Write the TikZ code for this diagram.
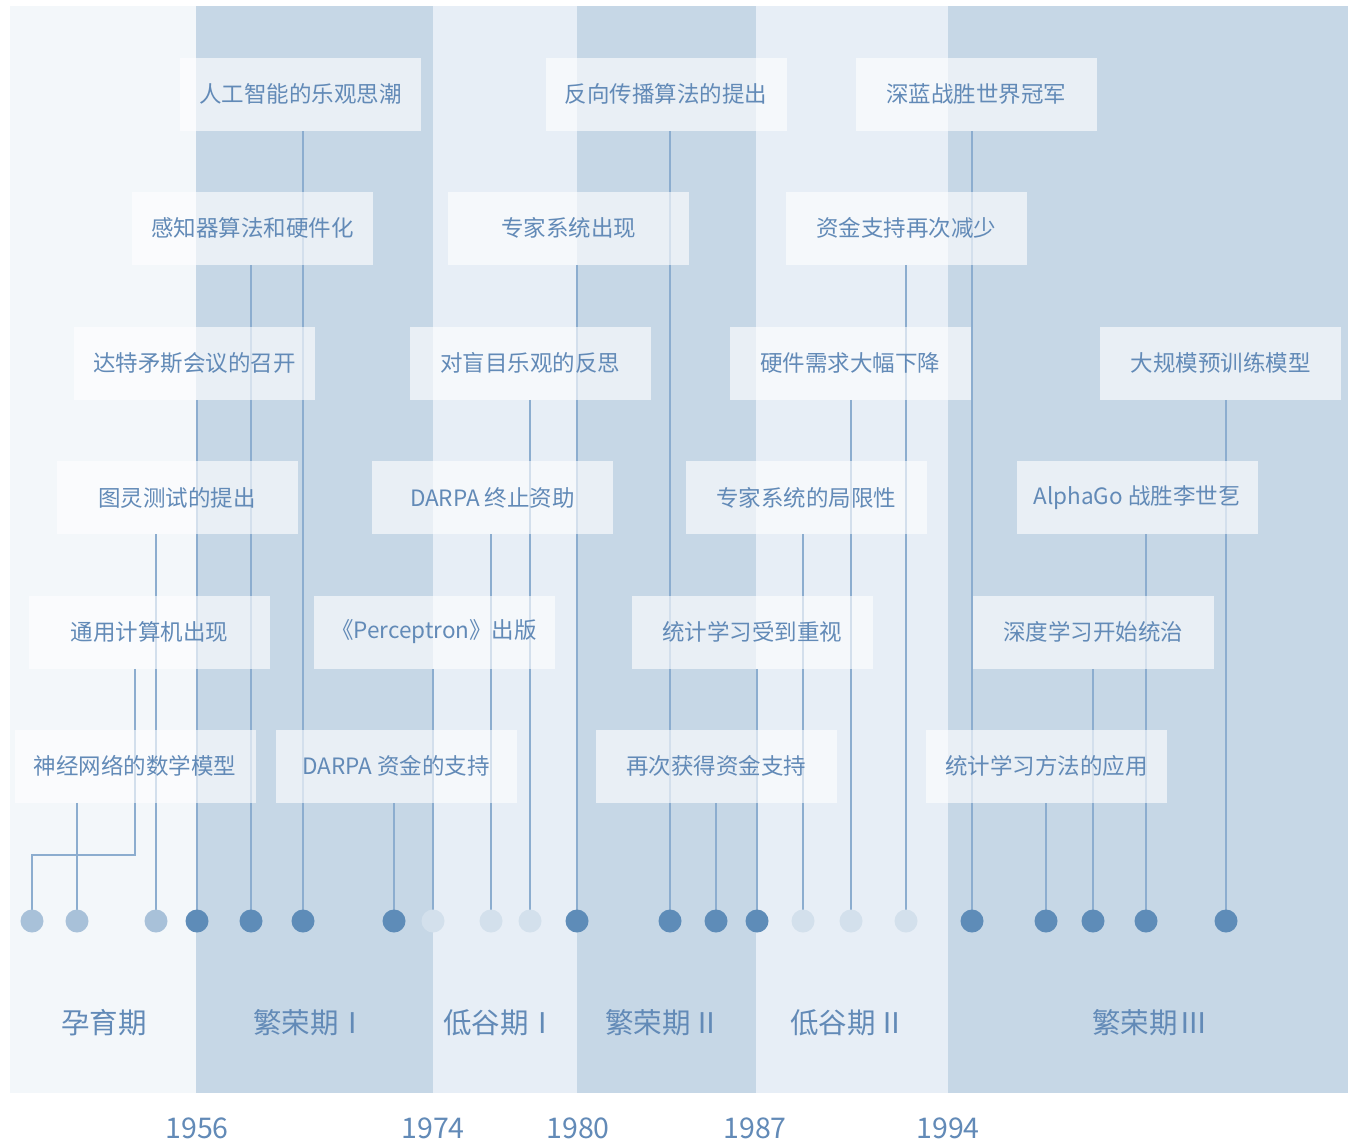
\documentclass[tikz,border=0pt]{standalone}
\usepackage{fontspec}
\setmainfont{Noto Sans CJK SC}
\definecolor{bandmid}{RGB}{198,215,230}
\definecolor{bandpale}{RGB}{243,247,250}
\definecolor{bandlight}{RGB}{231,238,246}
\definecolor{txt}{RGB}{98,138,183}
\definecolor{dotdark}{RGB}{94,140,184}
\definecolor{dotmid}{RGB}{168,193,217}
\definecolor{dotpale}{RGB}{211,224,236}
\definecolor{conncol}{RGB}{140,173,207}
\pgfdeclarelayer{bg}\pgfdeclarelayer{lines}\pgfsetlayers{bg,lines,main}
\begin{document}
\begin{tikzpicture}[x=1pt,y=-1pt,
  evbox/.style={fill=white,fill opacity=0.62,text opacity=1,text=txt,minimum width=241pt,minimum height=73pt,inner sep=0pt,font=\fontsize{22.5}{27}\selectfont},
  dotdk/.style={circle,fill=dotdark,minimum size=23pt,inner sep=0pt},
  dotmd/.style={circle,fill=dotmid,minimum size=23pt,inner sep=0pt},
  dotpl/.style={circle,fill=dotpale,minimum size=23pt,inner sep=0pt},
  conn/.style={draw=conncol,line width=1.2pt},
  period/.style={text=txt,inner sep=0pt,font=\fontsize{28.5}{33}\selectfont},
  yearlbl/.style={text=txt,inner sep=0pt,font=\fontsize{28.5}{33}\selectfont}]
\useasboundingbox (0,0) rectangle (1348,1141);
\begin{pgfonlayer}{bg}
\fill[white] (0,0) rectangle (1348,1141);
\fill[bandpale] (10,6) rectangle (196,1093);
\fill[bandmid] (196,6) rectangle (433,1093);
\fill[bandlight] (433,6) rectangle (577,1093);
\fill[bandmid] (577,6) rectangle (756,1093);
\fill[bandlight] (756,6) rectangle (948,1093);
\fill[bandmid] (948,6) rectangle (1348,1093);
\end{pgfonlayer}
% dots
\node[dotmd] (d1) at (32,921) {};
\node[dotmd] (d2) at (77,921) {};
\node[dotmd] (d3) at (156,921) {};
\node[dotdk] (d4) at (197,921) {};
\node[dotdk] (d5) at (251,921) {};
\node[dotdk] (d6) at (303,921) {};
\node[dotdk] (d7) at (394,921) {};
\node[dotpl] (d8) at (433,921) {};
\node[dotpl] (d9) at (491,921) {};
\node[dotpl] (d10) at (530,921) {};
\node[dotdk] (d11) at (577,921) {};
\node[dotdk] (d12) at (670,921) {};
\node[dotdk] (d13) at (716,921) {};
\node[dotdk] (d14) at (757,921) {};
\node[dotpl] (d15) at (803,921) {};
\node[dotpl] (d16) at (851,921) {};
\node[dotpl] (d17) at (906,921) {};
\node[dotdk] (d18) at (972,921) {};
\node[dotdk] (d19) at (1046,921) {};
\node[dotdk] (d20) at (1093,921) {};
\node[dotdk] (d21) at (1146,921) {};
\node[dotdk] (d22) at (1226,921) {};
% boxes
\node[evbox] (b1) at (300.5,94) {人工智能的乐观思潮};
\node[evbox] (b2) at (666,94) {反向传播算法的提出};
\node[evbox] (b3) at (976,94) {深蓝战胜世界冠军};
\node[evbox] (b4) at (252.5,228) {感知器算法和硬件化};
\node[evbox] (b5) at (568.5,228) {专家系统出现};
\node[evbox] (b6) at (906,228) {资金支持再次减少};
\node[evbox] (b7) at (194.5,363) {达特矛斯会议的召开};
\node[evbox] (b8) at (530,363) {对盲目乐观的反思};
\node[evbox] (b9) at (850,363) {硬件需求大幅下降};
\node[evbox] (b10) at (1220.5,363) {大规模预训练模型};
\node[evbox] (b11) at (177,497.5) {图灵测试的提出};
\node[evbox] (b12) at (492.5,497.5) {DARPA 终止资助};
\node[evbox] (b13) at (806,497.5) {专家系统的局限性};
\node[evbox] (b14) at (1137,497.5) {AlphaGo 战胜李世乭};
\node[evbox] (b15) at (149.5,632) {通用计算机出现};
\node[evbox] (b16) at (434,632) {《Perceptron》出版};
\node[evbox] (b17) at (752,632) {统计学习受到重视};
\node[evbox] (b18) at (1093,632) {深度学习开始统治};
\node[evbox] (b19) at (135,766) {神经网络的数学模型};
\node[evbox] (b20) at (396,766) {DARPA 资金的支持};
\node[evbox] (b21) at (716,766) {再次获得资金支持};
\node[evbox] (b22) at (1046.5,766) {统计学习方法的应用};
% connectors
\coordinate (e1) at (135,855);
\begin{pgfonlayer}{lines}
\draw[conn] (b1.south -| d6) -- (d6.center);
\draw[conn] (b2.south -| d12) -- (d12.center);
\draw[conn] (b3.south -| d18) -- (d18.center);
\draw[conn] (b4.south -| d5) -- (d5.center);
\draw[conn] (b5.south -| d11) -- (d11.center);
\draw[conn] (b6.south -| d17) -- (d17.center);
\draw[conn] (b7.south -| d4) -- (d4.center);
\draw[conn] (b8.south -| d10) -- (d10.center);
\draw[conn] (b9.south -| d16) -- (d16.center);
\draw[conn] (b10.south -| d22) -- (d22.center);
\draw[conn] (b11.south -| d3) -- (d3.center);
\draw[conn] (b12.south -| d9) -- (d9.center);
\draw[conn] (b13.south -| d15) -- (d15.center);
\draw[conn] (b14.south -| d21) -- (d21.center);
\draw[conn] (b15.south -| e1) -- (e1) -| (d1.center);
\draw[conn] (b16.south -| d8) -- (d8.center);
\draw[conn] (b17.south -| d14) -- (d14.center);
\draw[conn] (b18.south -| d20) -- (d20.center);
\draw[conn] (b19.south -| d2) -- (d2.center);
\draw[conn] (b20.south -| d7) -- (d7.center);
\draw[conn] (b21.south -| d13) -- (d13.center);
\draw[conn] (b22.south -| d19) -- (d19.center);
\end{pgfonlayer}
% periods
\node[period] (p1) at (104,1023) {孕育期};
\node[period] (p2) at (310,1023) {繁荣期Ⅰ};
\node[period] (p3) at (500,1023) {低谷期Ⅰ};
\node[period] (p4) at (663,1023) {繁荣期\hspace{2pt}Ⅱ};
\node[period] (p5) at (848,1023) {低谷期\hspace{2pt}Ⅱ};
\node[period] (p6) at (1150,1023) {繁荣期\hspace{2pt}Ⅲ};
% years
\node[yearlbl] (y1) at (197,1128) {1956};
\node[yearlbl] (y2) at (433,1128) {1974};
\node[yearlbl] (y3) at (578,1128) {1980};
\node[yearlbl] (y4) at (755,1128) {1987};
\node[yearlbl] (y5) at (948,1128) {1994};
\end{tikzpicture}
\end{document}
